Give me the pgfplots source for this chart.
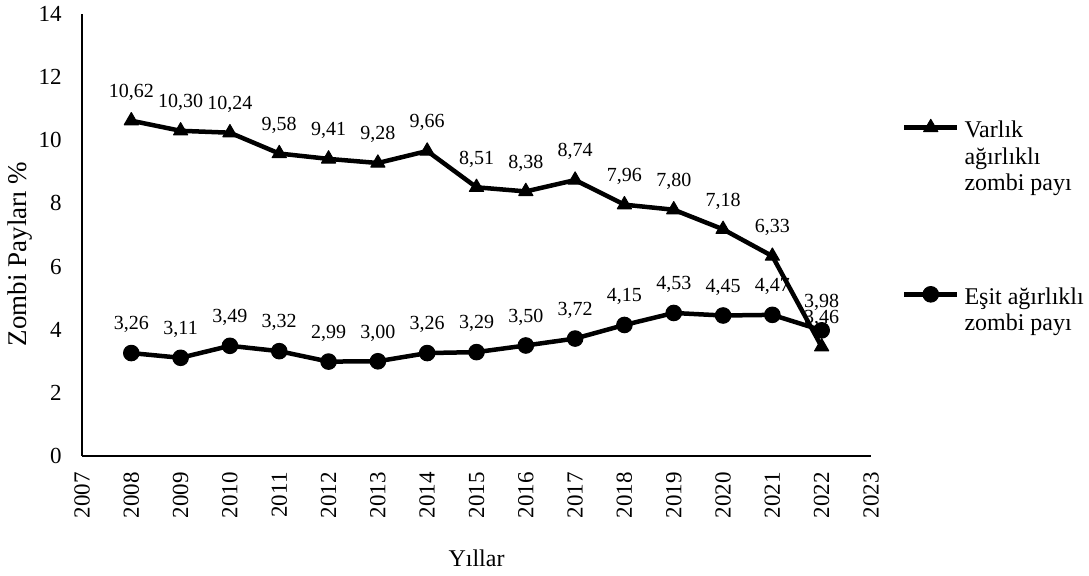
\documentclass[border=0pt]{standalone}
\usepackage{fontspec}
\setmainfont{Liberation Serif}
\usepackage{pgfplots}
\usepackage{pgfplotstable}
\pgfplotsset{compat=1.18}
\pgfplotstableread{
year val
2008 10.62
2009 10.30
2010 10.24
2011 9.58
2012 9.41
2013 9.28
2014 9.66
2015 8.51
2016 8.38
2017 8.74
2018 7.96
2019 7.80
2020 7.18
2021 6.33
2022 3.46
}\varlik
\pgfplotstableread{
year val
2008 3.26
2009 3.11
2010 3.49
2011 3.32
2012 2.99
2013 3.00
2014 3.26
2015 3.29
2016 3.50
2017 3.72
2018 4.15
2019 4.53
2020 4.45
2021 4.47
2022 3.98
}\esit
\begin{document}
\begin{tikzpicture}
\begin{axis}[
  scale only axis, width=394.5pt, height=221pt,
  xmin=2007, xmax=2023, ymin=0, ymax=14,
  axis lines*=left,
  axis line style={line width=0.6pt, black},
  xtick={2007,2008,...,2023}, ytick={0,2,...,14},
  major tick length=0pt,
  tick label style={font=\fontsize{11.5}{13}\selectfont, inner sep=0pt},
  /pgf/number format/assume math mode=true,
  /pgf/number format/set thousands separator={},
  xticklabel style={rotate=90, anchor=east},
  xticklabel shift=8pt, yticklabel shift=10pt,
  xlabel={Yıllar}, ylabel={Zombi Payları \%},
  every axis x label/.style={at={(axis description cs:0.5,-0.2308)}, anchor=center, font=\fontsize{12}{14}\selectfont},
  every axis y label/.style={at={(axis description cs:-0.0786,0.457)}, anchor=center, rotate=90, font=\fontsize{13.5}{16}\selectfont},
  legend style={draw=none, fill=none, inner sep=0pt, outer sep=0pt,
    at={(axis description cs:1.0393,0.7617)}, anchor=north west,
    font=\fontsize{12}{13.25}\selectfont, nodes={inner sep=0pt},
    row sep=73pt, column sep=2.5pt},
  legend cell align=left,
  legend style={cells={anchor=base west}},
  legend image code/.code={\draw[mark repeat=2,mark phase=2,#1] plot coordinates {(0pt,5pt)(13.25pt,5pt)(26.5pt,5pt)};},
  point meta=y,
  nodes near coords={\pgfmathprintnumber[fixed,fixed zerofill,precision=2,use comma,assume math mode=true]{\pgfplotspointmeta}},
  every node near coord/.append style={font=\fontsize{10}{12}\selectfont, inner sep=0pt, anchor=base, yshift=11.6pt, black},
  clip=false,
]
\addplot[black, line width=2.25pt, line join=round, mark=triangle*, mark size=4.1pt, mark options={solid, line width=0.5pt}] table[x=year,y=val] {\varlik};
\addlegendentry{\vtop{\baselineskip=13.25pt\hbox{Varlık}\hbox{ağırlıklı}\hbox{zombi payı}}}
\addplot[black, line width=2.25pt, line join=round, mark=*, mark size=3.9pt, mark options={solid, line width=0.5pt}] table[x=year,y=val] {\esit};
\addlegendentry{\vtop{\baselineskip=13.25pt\hbox{Eşit ağırlıklı}\hbox{zombi payı}}}
\end{axis}
\pgfresetboundingbox
\path[use as bounding box] (current axis.south west) ++(-41pt,-60pt) rectangle ++(544.5pt,288pt);
\end{tikzpicture}
\end{document}
